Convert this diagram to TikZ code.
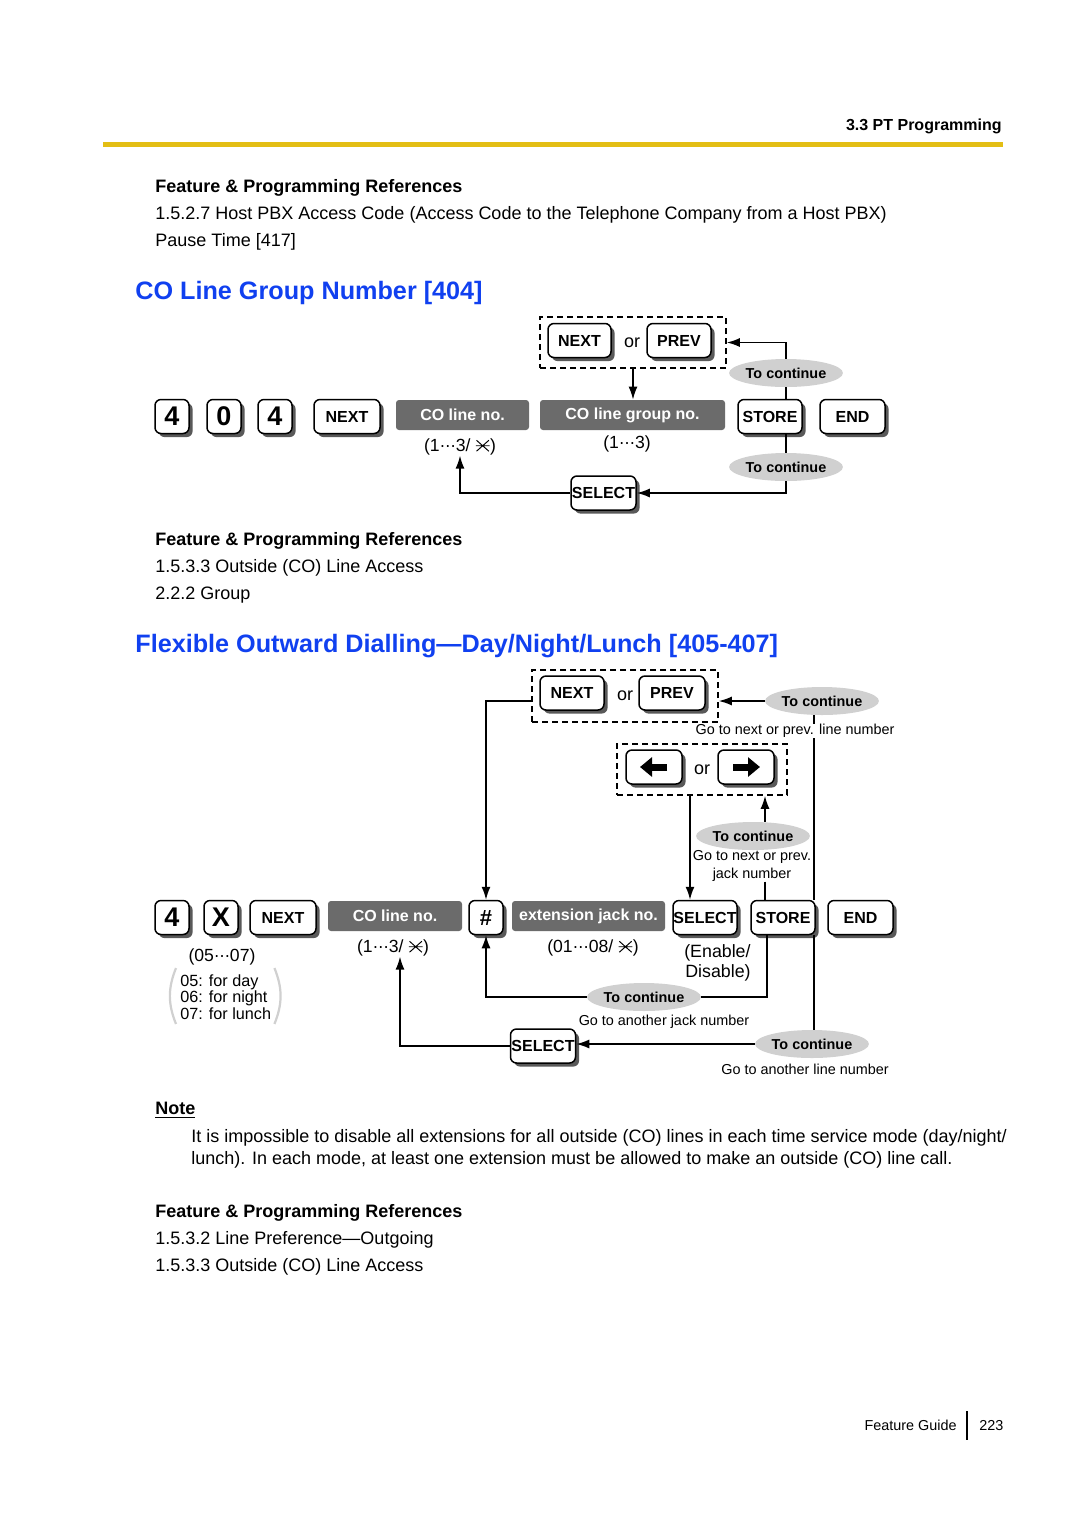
\documentclass[tikz,border=0pt]{standalone}
\usepackage{fontspec}
\setmainfont{Liberation Sans}
\newfontfamily\dotsfont{DejaVu Sans}
\usetikzlibrary{shapes.geometric,shadows,arrows.meta,calc}
\definecolor{titleblue}{RGB}{16,64,240}
\definecolor{rulegold}{RGB}{227,190,20}
\definecolor{boxgray}{RGB}{107,107,107}
\definecolor{ovalgray}{RGB}{208,208,208}
\newcommand{\starx}{\tikz[baseline=0pt,x=1em,y=1em]\draw[line width=0.055em] (0,0.02)--(0.7,0.64) (0,0.64)--(0.7,0.02) (-0.04,0.33)--(0.74,0.33);}
\newcommand{\cdts}{{\dotsfont\fontsize{8}{9}\selectfont ⋯}}
\begin{document}
\begin{tikzpicture}[x=0.5pt,y=-0.5pt,
	key/.style={draw,line width=0.75pt,rounded corners=3pt,fill=white,inner sep=0pt,minimum height=17pt,
		font=\fontsize{8}{9}\selectfont\bfseries,
		drop shadow={shadow xshift=1.8pt,shadow yshift=-1.8pt,fill=black!65,opacity=1}},
	numkey/.style={key,minimum width=17pt,font=\fontsize{13.5}{14}\selectfont\bfseries},
	graybox/.style={fill=boxgray,text=white,rounded corners=1.5pt,inner sep=0pt,minimum height=15pt,
		font=\fontsize{8}{9}\selectfont\bfseries},
	cont/.style={ellipse,fill=ovalgray,inner sep=0pt,minimum width=48pt,minimum height=14pt,
		font=\fontsize{7.2}{8}\selectfont\bfseries},
	grp/.style={draw,line width=0.8pt,dash pattern=on 3pt off 2pt,inner sep=0pt},
	ortxt/.style={inner sep=0pt,font=\fontsize{9}{11}\selectfont},
	notetxt/.style={inner sep=0pt,font=\fontsize{7.2}{8.6}\selectfont},
	rangetxt/.style={inner sep=0pt,font=\fontsize{8.8}{10.5}\selectfont},
	bodytxt/.style={anchor=base west,inner sep=0pt,font=\fontsize{9}{11}\selectfont},
	headtxt/.style={bodytxt,font=\fontsize{9}{11}\selectfont\bfseries},
	sectitle/.style={anchor=base west,inner sep=0pt,text=titleblue,font=\fontsize{12.6}{15}\selectfont\bfseries},
	link/.style={line width=0.75pt},
	flow/.style={link,-{Latex[length=6.5pt,width=4.5pt]}}]
	\useasboundingbox (0,0) rectangle (1080,1528);
	\fill[white] (0,0) rectangle (1080,1528);

	\node[anchor=base east,inner sep=0pt,font=\fontsize{8}{10}\selectfont\bfseries] (chap) at (1002,130) {3.3 PT Programming};
	\draw[rulegold,line width=2.5pt] (103,144) -- (1003,144);

	\node[headtxt] (refA) at (155,192) {Feature \& Programming References};
	\node[bodytxt] (refA1) at (155,219) {1.5.2.7 Host PBX Access Code (Access Code to the Telephone Company from a Host PBX)};
	\node[bodytxt] (refA2) at (155,246) {Pause Time [417]};

	\node[sectitle] (titleA) at (135,299) {CO Line Group Number [404]};

	\node[numkey] (d4a) at (172,416.5) {4};
	\node[numkey] (d0) at (224,416.5) {0};
	\node[numkey] (d4b) at (275,416.5) {4};
	\node[key,minimum width=33pt] (nextA) at (347,416.5) {NEXT};
	\node[graybox,minimum width=66.5pt] (colineA) at (462.5,415) {CO line no.};
	\node[graybox,minimum width=92.5pt] (cogrp) at (632.5,415) {CO line group no.};
	\node[key,minimum width=32pt] (storeA) at (770,416.5) {STORE};
	\node[key,minimum width=32.5pt] (endA) at (852.5,416.5) {END};
	\node[rangetxt] (rngA) at (460,447) {(1\cdts3/ \starx)};
	\node[rangetxt] (rngG) at (627,444) {(1\cdts3)};

	\node[grp,minimum width=93pt,minimum height=25.5pt] (grpA) at (633,342.5) {};
	\node[key,minimum width=31.5pt] (nextB) at (579.5,340.5) {NEXT};
	\node[ortxt] (orA) at (632,343) {or};
	\node[key,minimum width=32pt] (prevA) at (679,340.5) {PREV};
	\node[cont] (contA) at (786,373) {To continue};
	\node[cont] (contB) at (786,467) {To continue};
	\node[key,minimum width=32.5pt] (selA) at (603.5,493) {SELECT};

	\draw[flow] (grpA.south) -- (grpA.south |- cogrp.north);
	\draw[link] (storeA.north -| contA.south) -- (contA.south);
	\draw[flow] (contA.north) |- (grpA.east);
	\draw[link] (storeA.south -| contB.north) -- (contB.north);
	\draw[flow] (contB.south) |- (selA.east);
	\draw[flow] (selA.west) -| (rngA.south);

	\node[headtxt] (refB) at (155,545) {Feature \& Programming References};
	\node[bodytxt] (refB1) at (155,572) {1.5.3.3 Outside (CO) Line Access};
	\node[bodytxt] (refB2) at (155,599) {2.2.2 Group};

	\node[sectitle] (titleB) at (135,652) {Flexible Outward Dialling—Day/Night/Lunch [405-407]};

	\node[numkey] (e4) at (172,917.5) {4};
	\node[numkey] (ex) at (221,917.5) {X};
	\node[key,minimum width=33pt] (nextC) at (283,917.5) {NEXT};
	\node[graybox,minimum width=67pt] (colineB) at (395,916) {CO line no.};
	\node[key,minimum width=17pt,font=\fontsize{11}{12}\selectfont\bfseries] (hash) at (486,917.5) {\#};
	\node[graybox,minimum width=76.5pt] (extjack) at (588.5,916) {extension jack no.};
	\node[key,minimum width=32pt] (selB) at (705,917.5) {SELECT};
	\node[key,minimum width=32pt] (storeB) at (783,917.5) {STORE};
	\node[key,minimum width=32.5pt] (endB) at (860.5,917.5) {END};

	\node[rangetxt] (rngM) at (222,957) {(05\cdts07)};
	\node[anchor=west,align=left,inner sep=0pt,font=\fontsize{8.1}{8.3}\selectfont] (modes) at (180,997) {05: for day\\06: for night\\07: for lunch};
	\draw[ovalgray,line width=1.1pt] ([xshift=-2pt,yshift=3pt]modes.north west) to[bend right=22] ([xshift=-2pt,yshift=-2pt]modes.south west);
	\draw[ovalgray,line width=1.1pt] ([xshift=1.5pt,yshift=3pt]modes.north east) to[bend left=22] ([xshift=1.5pt,yshift=-2pt]modes.south east);
	\node[rangetxt] (rngB) at (393,948) {(1\cdts3/ \starx)};
	\node[rangetxt] (rngJ) at (593,948) {(01\cdts08/ \starx)};
	\node[anchor=east,align=right,inner sep=0pt,font=\fontsize{8.9}{10}\selectfont] (endis) at (751,963) {(Enable/\\Disable)};

	\node[grp,minimum width=93pt,minimum height=26pt] (grpB) at (625,696) {};
	\node[key,minimum width=32pt] (nextD) at (572,693) {NEXT};
	\node[ortxt] (orB) at (625,696) {or};
	\node[key,minimum width=33pt] (prevB) at (672,693) {PREV};
	\node[grp,minimum width=85pt,minimum height=25.5pt] (grpC) at (702,769.5) {};
	\node[key,minimum width=28pt] (leftk) at (654,767) {};
	\node[ortxt] (orC) at (702,770) {or};
	\node[key,minimum width=28pt] (rightk) at (746,767) {};
	\draw[line width=3.5pt,-{Triangle[length=6pt,width=9.5pt]}] ([xshift=6.5pt]leftk.center) -- ([xshift=-7pt]leftk.center);
	\draw[line width=3.5pt,-{Triangle[length=6pt,width=9.5pt]}] ([xshift=-6.5pt]rightk.center) -- ([xshift=7pt]rightk.center);

	\node[cont] (contC) at (822,701) {To continue};
	\node[notetxt] (lnA) at (795,731) {Go to next or prev. line number};
	\node[cont] (contD) at (753,836) {To continue};
	\node[notetxt,align=center] (lnB) at (752,866) {Go to next or prev.\\jack number};
	\node[cont] (contE) at (644,997) {To continue};
	\node[notetxt] (lnC) at (664,1022) {Go to another jack number};
	\node[key,minimum width=32.5pt] (selC) at (543,1046) {SELECT};
	\node[cont] (contF) at (812,1044) {To continue};
	\node[notetxt] (lnD) at (805,1069) {Go to another line number};
	\coordinate (vx) at (814,0);

	\draw[flow] ([yshift=-2.5pt]grpB.west) -| (hash.north);
	\draw[flow] (contC.west) -- (contC.west -| grpB.east);
	\draw[link] (contC.south -| vx) -- (lnA.north -| vx);
	\draw[link] (lnA.south -| vx) -- (storeB.north -| vx);
	\draw[link] (storeB.south -| vx) -- (contF.north -| vx);
	\draw[flow] ([xshift=-6pt]grpC.south) -- ([xshift=-6pt]grpC.south |- selB.north);
	\draw[flow] ([xshift=6pt]contD.north) -- ([xshift=6pt]contD.north |- grpC.south);
	\draw[link] ([xshift=6.5pt]lnB.south) -- ([xshift=6.5pt]lnB.south |- storeB.north);
	\draw[link] ([xshift=-8pt]storeB.south) |- (contE.east);
	\draw[flow] (contE.west) -| (hash.south);
	\draw[flow] (contF.west) -- (contF.west -| selC.east);
	\draw[flow] (selC.west) -| ([xshift=3.5pt]rngB.south);

	\node[headtxt] (notehd) at (155,1114) {\underline{Note}};
	\node[bodytxt] (note1) at (191,1142) {It is impossible to disable all extensions for all outside (CO) lines in each time service mode (day/night/};
	\node[bodytxt] (note2) at (191,1164) {lunch). In each mode, at least one extension must be allowed to make an outside (CO) line call.};

	\node[headtxt] (refC) at (155,1217) {Feature \& Programming References};
	\node[bodytxt] (refC1) at (155,1244) {1.5.3.2 Line Preference—Outgoing};
	\node[bodytxt] (refC2) at (155,1271) {1.5.3.3 Outside (CO) Line Access};

	\node[anchor=base east,inner sep=0pt,font=\fontsize{7.2}{9}\selectfont] (fguide) at (957,1430) {Feature Guide};
	\node[anchor=base west,inner sep=0pt,font=\fontsize{7.2}{9}\selectfont] (pgno) at (979,1430) {223};
	\draw[line width=0.6pt] (967,1411) -- (967,1440);
\end{tikzpicture}
\end{document}
